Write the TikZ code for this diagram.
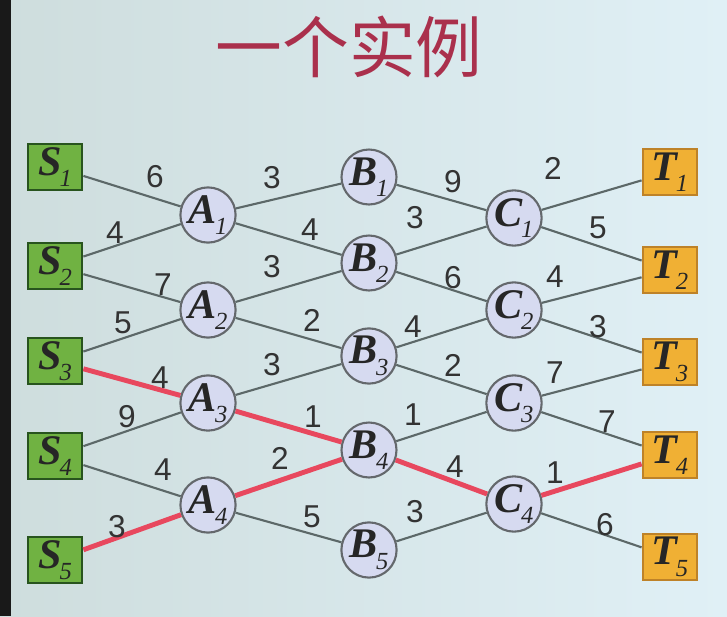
\documentclass[tikz,border=0pt]{standalone}
\usepackage{fontspec}
\setmainfont{Liberation Serif}
\newfontfamily\numfont{Liberation Sans}
\newfontfamily\cjk{Noto Sans CJK SC}
\usetikzlibrary{positioning}

\definecolor{bgleft}{RGB}{206,221,221}
\definecolor{bgright}{RGB}{224,240,246}
\definecolor{srcfill}{RGB}{112,178,66}
\definecolor{srcdraw}{RGB}{40,84,30}
\definecolor{snkfill}{RGB}{240,176,52}
\definecolor{snkdraw}{RGB}{190,130,40}
\definecolor{midfill}{RGB}{214,218,240}
\definecolor{middraw}{RGB}{100,104,108}
\definecolor{linkgray}{RGB}{92,104,104}
\definecolor{bestred}{RGB}{232,72,94}
\definecolor{titlered}{RGB}{170,48,76}

\newcommand{\vlbl}[2]{{\bfseries\itshape #1}\kern-1pt\raisebox{-0.6ex}{\fontsize{14}{14}\selectfont\itshape #2}}

\begin{document}
\begin{tikzpicture}[x=0.02cm, y=-0.02cm,
  src/.style={draw=srcdraw, fill=srcfill, line width=1.6pt, minimum width=1.08cm, minimum height=0.92cm, inner sep=0pt, font=\fontsize{24}{24}\selectfont, text=black!85},
  snk/.style={src, draw=snkdraw, fill=snkfill},
  mid/.style={circle, draw=middraw, fill=midfill, line width=1.2pt, minimum size=1.1cm, inner sep=0pt, font=\fontsize{24}{24}\selectfont, text=black!85},
  link/.style={draw=linkgray, line width=1.2pt},
  best/.style={draw=bestred, line width=2.8pt},
  wt/.style={font=\numfont\fontsize{18}{18}\selectfont, text=black!80, inner sep=0pt}]

% Hintergrund
\shade[left color=bgleft, right color=bgright] (0,0) rectangle (727,616);
\fill[black!90] (0,0) rectangle (11,616);
\useasboundingbox (0,0) rectangle (727,616);

\node[text=titlered, font=\cjk\fontsize{38}{38}\selectfont] (title) at (349,47) {一个实例};

% Knoten
\foreach \y [count=\i] in {167,266,361,456,560}
  \node[src] (s\i) at (55,\y) {\vlbl{S}{\i}};
\foreach \y [count=\i] in {215,310,403,505}
  \node[mid] (a\i) at (208,\y) {\vlbl{A}{\i}};
\foreach \y [count=\i] in {177,263,356,450,550}
  \node[mid] (b\i) at (369,\y) {\vlbl{B}{\i}};
\foreach \y [count=\i] in {218,310,403,504}
  \node[mid] (c\i) at (514,\y) {\vlbl{C}{\i}};
\foreach \y [count=\i] in {172,270,362,455,557}
  \node[snk] (t\i) at (670,\y) {\vlbl{T}{\i}};

% Kanten
\foreach \u/\v/\w/\lx/\ly [count=\i] in {s1/a1/6/155/177, s2/a1/4/115/233, s2/a2/7/163/285,
    s3/a2/5/123/323, s4/a3/9/127/417, s4/a4/4/163/470, a1/b1/3/272/178, a1/b2/4/310/230,
    a2/b2/3/272/267, a2/b3/2/312/320, a3/b3/3/272/365, a4/b5/5/312/517, b1/c1/9/453/182,
    b2/c1/3/415/218, b2/c2/6/453/278, b3/c2/4/413/327, b3/c3/2/453/365, b4/c3/1/413/415,
    b5/c4/3/415/512, c1/t1/2/553/168, c1/t2/5/598/228, c2/t2/4/555/277, c2/t3/3/598/327,
    c3/t3/7/555/373, c3/t4/7/607/422, c4/t5/6/605/525} {
  \draw[link] (\u) -- (\v);
  \node[wt] (wg\i) at (\lx,\ly) {\w};
}

% kuerzester Weg
\foreach \u/\v/\w/\lx/\ly [count=\i] in {s3/a3/4/160/378, s5/a4/3/117/527, a3/b4/1/313/417,
    a4/b4/2/280/458, b4/c4/4/455/467, c4/t4/1/555/473} {
  \draw[best] (\u) -- (\v);
  \node[wt] (wr\i) at (\lx,\ly) {\w};
}

\end{tikzpicture}
\end{document}
